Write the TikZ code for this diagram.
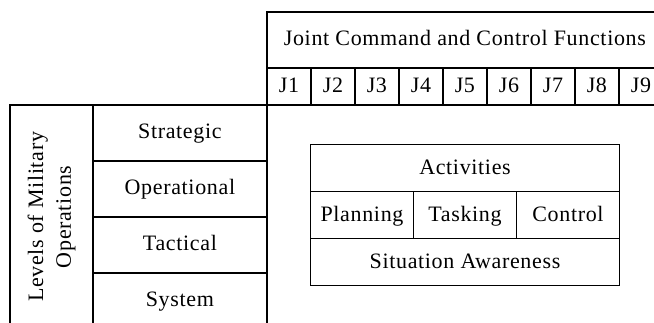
\documentclass[tikz,border=0pt]{standalone}
\usepackage{fontspec}
\setmainfont{Liberation Serif}[LetterSpace=3.0]
\usetikzlibrary{matrix,positioning}

\begin{document}
\begin{tikzpicture}[x=1pt, y=-1pt, line width=1.8pt,
    font=\fontsize{22}{28}\selectfont,
    cell/.style={draw, inner sep=0pt},
    txt/.style={cell, text height=12pt, text depth=0pt},
    table/.style={matrix of nodes, inner sep=0pt, outer sep=0pt, column sep=-\pgflinewidth, row sep=-\pgflinewidth},
    jrow/.style={table, nodes={txt, anchor=center, minimum width=44pt, minimum height=37pt}},
    lvlcol/.style={table, nodes={txt, anchor=center, minimum width=174pt, minimum height=56pt}},
    actrow/.style={table, nodes={txt, anchor=center, minimum width=103pt, minimum height=47pt}}
    ]

    \useasboundingbox (0,0) rectangle (654,322);

    \matrix[jrow, anchor=north west] (jfun) at (266,67) {
    J1 & J2 & J3 & J4 & J5 & J6 & J7 & J8 & J9\\};
    \node[txt, above=-\pgflinewidth of jfun, minimum width=396pt, minimum height=56pt] (joint) {Joint Command and Control Functions};

    \matrix[lvlcol, anchor=north east] (lvl) at ([xshift=\pgflinewidth, yshift=\pgflinewidth]jfun.south west) {
    Strategic\\
    Operational\\
    Tactical\\
    System\\};
    \node[cell, left=-\pgflinewidth of lvl, minimum width=83pt, minimum height=224pt] (levels)
        {\rotatebox{90}{\begin{tabular}{@{}c@{}}Levels of Military\\Operations\end{tabular}}};
    %
    \matrix[actrow] (acts) at (465,215) {
    Planning & Tasking & Control\\};
    \node[txt, above=-\pgflinewidth of acts, minimum width=309pt, minimum height=47pt] (activities) {Activities};
    \node[txt, below=-\pgflinewidth of acts, minimum width=309pt, minimum height=47pt] (awareness) {Situation Awareness};
\end{tikzpicture}
\end{document}
